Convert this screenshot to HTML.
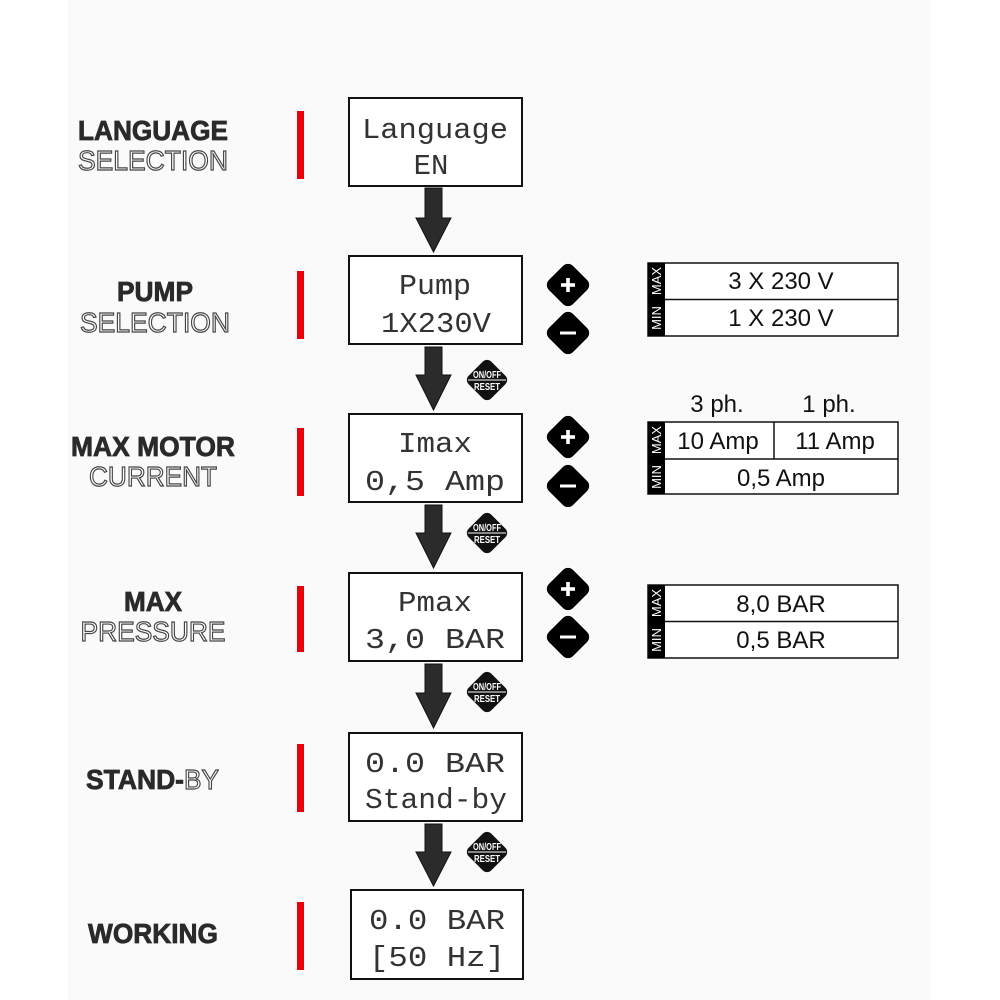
<!DOCTYPE html>
<html><head><meta charset="utf-8"><style>
html,body{margin:0;padding:0;background:#fff;width:1000px;height:1000px;overflow:hidden}
svg text{font-family:"Liberation Sans",Arial,sans-serif}
.lbl{font-weight:bold;font-size:28px;fill:#2a2a2a;stroke:#2a2a2a;stroke-width:0.8;text-anchor:middle}
.out{font-size:28px;fill:#fff;stroke:#444;stroke-width:1.2;text-anchor:middle}
.lcd{font-family:"Liberation Mono",monospace !important;font-size:29px;fill:#333;text-anchor:middle}
.tv{font-size:24px;fill:#111;text-anchor:middle}
.sm{font-size:13px;fill:#fff;text-anchor:middle}
.btn{font-size:10px;font-weight:bold;fill:#fff;text-anchor:middle}
</style></head><body>
<svg width="1000" height="1000" viewBox="0 0 1000 1000" xmlns="http://www.w3.org/2000/svg">
<rect x="68" y="0" width="862" height="1000" fill="#fafafa"/>
<defs>
<g id="plus"><rect x="-17" y="-17" width="34" height="34" rx="7" transform="rotate(45)" fill="#000"/><rect x="-7" y="-1.8" width="14" height="3.6" fill="#fff"/><rect x="-1.8" y="-7" width="3.6" height="14" fill="#fff"/></g>
<g id="minus"><rect x="-17" y="-17" width="34" height="34" rx="7" transform="rotate(45)" fill="#000"/><rect x="-8" y="-1.5" width="16" height="3" fill="#fff"/></g>
<g id="onoff"><rect x="-16" y="-16" width="32" height="32" rx="6" transform="rotate(45)" fill="#111"/><line x1="-19" y1="0" x2="19" y2="0" stroke="#fff" stroke-width="1"/><text class="btn" x="0" y="-2" textLength="28" lengthAdjust="spacingAndGlyphs">ON/OFF</text><text class="btn" x="0" y="10" textLength="26" lengthAdjust="spacingAndGlyphs">RESET</text></g>
</defs>

<g fill="#e8000b">
<rect x="297" y="111" width="7" height="68"/><rect x="297" y="271" width="7" height="68"/>
<rect x="297" y="428" width="7" height="68"/><rect x="297" y="586" width="7" height="66"/>
<rect x="297" y="744" width="7" height="68"/><rect x="297" y="902" width="7" height="68"/>
</g>

<text class="lbl" x="153" y="140" textLength="150" lengthAdjust="spacingAndGlyphs">LANGUAGE</text>
<text class="out" x="153" y="170" textLength="150" lengthAdjust="spacingAndGlyphs">SELECTION</text>
<text class="lbl" x="155" y="301" textLength="76" lengthAdjust="spacingAndGlyphs">PUMP</text>
<text class="out" x="155" y="332" textLength="150" lengthAdjust="spacingAndGlyphs">SELECTION</text>
<text class="lbl" x="153" y="456" textLength="164" lengthAdjust="spacingAndGlyphs">MAX MOTOR</text>
<text class="out" x="153" y="486" textLength="128" lengthAdjust="spacingAndGlyphs">CURRENT</text>
<text class="lbl" x="153" y="611" textLength="58" lengthAdjust="spacingAndGlyphs">MAX</text>
<text class="out" x="153" y="641" textLength="145" lengthAdjust="spacingAndGlyphs">PRESSURE</text>
<text x="86" y="789" font-size="28" font-weight="bold" fill="#2a2a2a" stroke="#2a2a2a" stroke-width="0.8" textLength="98" lengthAdjust="spacingAndGlyphs">STAND-</text>
<text x="184" y="789" font-size="28" fill="#fff" stroke="#444" stroke-width="1.2" textLength="35" lengthAdjust="spacingAndGlyphs">BY</text>
<text class="lbl" x="153" y="943" textLength="130" lengthAdjust="spacingAndGlyphs">WORKING</text>

<g fill="#fff" stroke="#111" stroke-width="2">
<rect x="349" y="98" width="173" height="88"/>
<rect x="349" y="256" width="173" height="88"/>
<rect x="349" y="414" width="173" height="88"/>
<rect x="349" y="573" width="173" height="88"/>
<rect x="349" y="733" width="173" height="88"/>
<rect x="351" y="890" width="172" height="89"/>
</g>
<text class="lcd" x="435" y="138" textLength="146" lengthAdjust="spacingAndGlyphs">Language</text>
<text class="lcd" x="431" y="174">EN</text>
<text class="lcd" x="435" y="294" textLength="72" lengthAdjust="spacingAndGlyphs">Pump</text>
<text class="lcd" x="436" y="332" textLength="110" lengthAdjust="spacingAndGlyphs">1X230V</text>
<text class="lcd" x="435" y="452" textLength="74" lengthAdjust="spacingAndGlyphs">Imax</text>
<text class="lcd" x="435" y="490" textLength="140" lengthAdjust="spacingAndGlyphs">0,5  Amp</text>
<text class="lcd" x="435" y="611" textLength="74" lengthAdjust="spacingAndGlyphs">Pmax</text>
<text class="lcd" x="435" y="648" textLength="140" lengthAdjust="spacingAndGlyphs">3,0  BAR</text>
<text class="lcd" x="435" y="772" textLength="140" lengthAdjust="spacingAndGlyphs">0.0  BAR</text>
<text class="lcd" x="436" y="808" textLength="142" lengthAdjust="spacingAndGlyphs">Stand-by</text>
<text class="lcd" x="437" y="929" textLength="136" lengthAdjust="spacingAndGlyphs">0.0  BAR</text>
<text class="lcd" x="437" y="966" textLength="136" lengthAdjust="spacingAndGlyphs">[50  Hz]</text>

<g fill="#2b2b2b" stroke="#111" stroke-width="1">
<path d="M425 188 H442 V218 H451 L433.5 252 L416 218 H425 Z"/>
<path d="M425 347 H442 V375 H451 L433.5 410 L416 375 H425 Z"/>
<path d="M425 505 H442 V533 H451 L433.5 568 L416 533 H425 Z"/>
<path d="M425 664 H442 V693 H451 L433.5 728 L416 693 H425 Z"/>
<path d="M425 824 H442 V852 H451 L433.5 886 L416 852 H425 Z"/>
</g>

<use href="#plus" x="568" y="285"/><use href="#minus" x="568" y="333"/>
<use href="#plus" x="568" y="437"/><use href="#minus" x="568" y="486"/>
<use href="#plus" x="568" y="589"/><use href="#minus" x="568" y="637"/>
<use href="#onoff" x="487" y="380"/><use href="#onoff" x="487" y="533"/>
<use href="#onoff" x="487" y="692"/><use href="#onoff" x="487" y="852"/>

<g fill="#fff" stroke="#111" stroke-width="1.5">
<rect x="648" y="263" width="250" height="73"/><line x1="648" y1="299.5" x2="898" y2="299.5"/>
<rect x="648" y="422" width="250" height="72"/><line x1="648" y1="459" x2="898" y2="459"/><line x1="774" y1="422" x2="774" y2="459"/>
<rect x="648" y="585" width="250" height="73"/><line x1="648" y1="621.5" x2="898" y2="621.5"/>
</g>
<g fill="#000">
<rect x="648" y="263" width="17" height="73"/><rect x="648" y="422" width="17" height="72"/><rect x="648" y="585" width="17" height="73"/>
</g>
<text class="sm" transform="translate(661,281) rotate(-90)">MAX</text>
<text class="sm" transform="translate(661,318) rotate(-90)">MIN</text>
<text class="sm" transform="translate(661,440) rotate(-90)">MAX</text>
<text class="sm" transform="translate(661,477) rotate(-90)">MIN</text>
<text class="sm" transform="translate(661,603) rotate(-90)">MAX</text>
<text class="sm" transform="translate(661,640) rotate(-90)">MIN</text>
<text class="tv" x="781" y="289">3 X 230 V</text>
<text class="tv" x="781" y="326">1 X 230 V</text>
<text class="tv" x="717" y="412">3 ph.</text>
<text class="tv" x="829" y="412">1 ph.</text>
<text class="tv" x="718" y="449">10 Amp</text>
<text class="tv" x="835" y="449">11 Amp</text>
<text class="tv" x="781" y="486">0,5 Amp</text>
<text class="tv" x="781" y="612">8,0 BAR</text>
<text class="tv" x="781" y="648">0,5 BAR</text>
</svg>
</body></html>
